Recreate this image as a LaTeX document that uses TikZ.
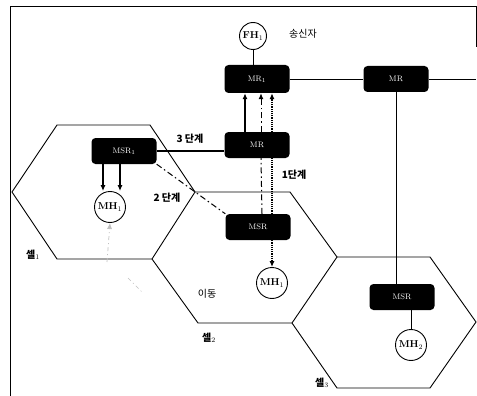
\documentclass[tikz,border=0pt]{standalone}
\usepackage{fontspec}
\usepackage{tikz}
\usetikzlibrary{arrows.meta, calc}
\newfontfamily\kr{Noto Sans CJK KR}

\tikzset{
  router/.style={fill=black, text=white, rounded corners=4pt, minimum width=65pt, minimum height=26pt, inner sep=1pt, font=\footnotesize},
  host/.style={draw, circle, minimum size=31pt, inner sep=0pt, line width=0.9pt, font=\normalsize\bfseries},
  cell/.style={line width=0.9pt},
  stagelbl/.style={font=\kr\bfseries\normalsize},
  celllbl/.style={font=\kr\bfseries\normalsize},
  dashdot/.style={line width=1pt, dash pattern=on 6pt off 3pt on 1.5pt off 3pt},
  dots/.style={line width=1.2pt, densely dotted},
  move/.style={gray!50, line width=0.7pt, dash pattern=on 4pt off 3pt on 1pt off 3pt}
}

\begin{document}
\begin{tikzpicture}[x=1pt, y=-1pt, >={Latex[length=6pt, width=5pt]}]
    \useasboundingbox (0,0) rectangle (477,396);

    % cadre
    \draw[semithick] (10,396) -- (10,6) -- (476,6) -- (476,47);

    % cellules
    \draw[cell] (57,125) -- (150,125) -- (195,192) -- (152,259) -- (57,259) -- (12,192) -- cycle;
    \draw[cell] (195,192) -- (290,192) -- (337,257) -- (292,323) -- (198,323) -- (152,259);
    \draw[cell] (337,257) -- (430,257) -- (476,322) -- (430,388) -- (337,388) -- (292,323);

    \node (cell1) [celllbl] at (33,255) {셀$_1$};
    \node (cell2) [celllbl] at (209,338) {셀$_2$};
    \node (cell3) [celllbl] at (322,383) {셀$_3$};
    \node (move) [font=\kr\normalsize] at (207,294) {이동};

    % noeuds
    \node (fh) [host, minimum size=27pt] at (253,36) {FH$_1$};
    \node (sender) [font=\kr\normalsize] at (303,34) {송신자};
    \node (mr1) [router, minimum height=28pt] at (257,79) {MR$_1$};
    \node (mr2) [router] at (396,79) {MR};
    \node (mr) [router] at (257,145) {MR};
    \node (msr1) [router] at (124,151) {MSR$_1$};
    \node (msr) [router] at (258,227) {MSR};
    \node (msr2) [router] at (402,297) {MSR};
    \node (mh1a) [host] at (110,207) {MH$_1$};
    \node (mh1b) [host] at (272,283) {MH$_1$};
    \node (mh2) [host] at (411,345) {MH$_2$};
    \coordinate (rim) at (476,79);
    \coordinate (mvfoot) at (107,262);
    \coordinate (mvA) at (128,278);
    \coordinate (mvB) at (142,292);

    \node (stage3) [stagelbl] at (190,139) {3 단계};
    \node (stage2) [stagelbl] at (167,198) {2 단계};
    \node (stage1) [stagelbl] at (294,175) {1단계};

    % liaisons
    \draw[semithick] (fh.south) -- (fh.south |- mr1.north);
    \draw[semithick] (mr1.east) -- (mr2.west);
    \draw[semithick] (mr2.east) -- (rim);
    \draw[semithick] (mr2.south) -- (mr2.south |- msr2.north);
    \draw[semithick] (msr2.south -| mh2.north) -- (mh2.north);
    \draw[line width=1.8pt] (msr1.east) -- (msr1.east -| mr.west);

    % etape 3
    \draw[->, line width=1.6pt] ([xshift=-12pt]mr.north) -- ([xshift=-12pt]mr1.south);
    \draw[->, line width=1.6pt] ([xshift=-21pt]msr1.south) -- ([xshift=-21pt]msr1.south |- mh1a.north);
    \draw[->, line width=1.6pt] ([xshift=-4pt]msr1.south) -- ([xshift=-4pt]msr1.south |- mh1a.north);

    % etape 2
    \draw[dashdot] (msr1.south east) -- (msr.north west);
    \draw[dashdot] ([xshift=4pt]msr.north) -- ([xshift=4pt]mr.south);
    \draw[dashdot, ->] ([xshift=4pt]mr.north) -- ([xshift=4pt]mr1.south);

    % etape 1
    \draw[dots, ->] (msr.south -| mh1b.north) -- (mh1b.north);
    \draw[dots] (msr.north -| mh1b.north) -- (mr.south -| mh1b.north);
    \draw[dots, ->] (mr.north -| mh1b.north) -- (mr1.south -| mh1b.north);

    % mouvement
    \draw[move, ->] (mvfoot) -- (mh1a.south);
    \draw[move] (mvA) -- (mvB);
\end{tikzpicture}
\end{document}
